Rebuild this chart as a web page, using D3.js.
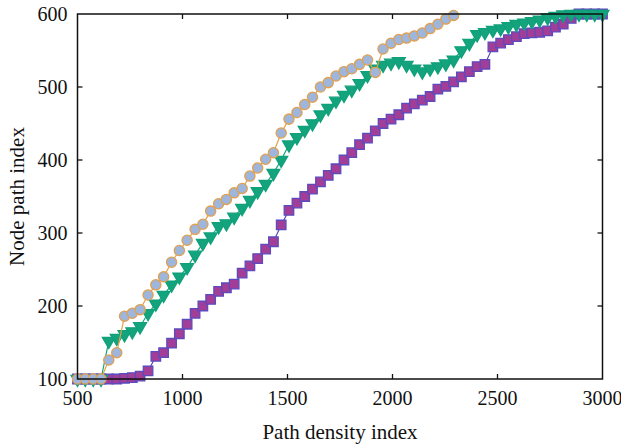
<!DOCTYPE html>
<html>
<head>
<meta charset="utf-8">
<script src="https://cdn.jsdelivr.net/npm/d3@7"></script>
<style>
  body { margin: 0; background: #fff; }
  text { font-family: "Liberation Serif", "Times New Roman", serif; fill: #111; }
</style>
</head>
<body>
<svg id="chart" width="621" height="447"></svg>
<script>
// path density index values (shared x grid)
const pathDensity = [500, 537, 575, 612, 649, 687, 724, 761, 798, 836, 873, 910, 948, 985, 1022, 1060, 1097, 1134, 1172, 1209,
  1246, 1284, 1321, 1358, 1396, 1433, 1470, 1507, 1545, 1582, 1619, 1657, 1694, 1731, 1769, 1806, 1843, 1881, 1918, 1955,
  1993, 2030, 2067, 2104, 2142, 2179, 2216, 2254, 2291, 2328, 2366, 2403, 2440, 2478, 2515, 2552, 2590, 2627, 2664, 2701,
  2739, 2776, 2813, 2851, 2888, 2925, 2963, 3000];

// circles (orange line, light blue fill)
const circleSeries = [100, 100, 100, 100, 126, 136, 186, 190, 195, 215, 229, 240, 260, 276, 290, 305, 312, 330, 340, 346,
  355, 361, 378, 389, 401, 410, 437, 456, 465, 476, 486, 500, 506, 515, 521, 525, 531, 537, 520, 552,
  560, 565, 567, 570, 574, 580, 586, 593, 598];

// down triangles (green)
const triangleSeries = [100, 100, 100, 100, 152, 156, 161, 165, 172, 190, 203, 215, 229, 240, 253, 270, 286, 295, 309, 313,
  322, 334, 345, 357, 367, 382, 400, 421, 431, 441, 450, 462, 471, 481, 489, 496, 505, 516, 525, 530,
  533, 535, 530, 525, 521, 525, 528, 532, 537, 550, 560, 572, 575, 578, 580, 583, 586, 588, 590, 592,
  595, 597, 599, 600, 600, 600, 600, 600];

// squares (purple)
const squareSeries = [100, 100, 100, 100, 100, 100, 101, 102, 104, 111, 131, 136, 149, 162, 175, 190, 200, 209, 220, 225,
  230, 245, 255, 265, 278, 288, 311, 331, 341, 350, 360, 370, 379, 388, 400, 410, 421, 430, 440, 450,
  456, 462, 471, 477, 482, 487, 497, 501, 507, 514, 521, 528, 531, 555, 560, 565, 569, 573, 574, 575,
  577, 582, 586, 594, 600, 600, 600, 600];

const xTicks = [500, 1000, 1500, 2000, 2500, 3000];
const yTicks = [100, 200, 300, 400, 500, 600];

const svg = d3.select("#chart");
const plotL = 77.5, plotR = 602.5, plotT = 14, plotB = 379;

let xscale = d3.scaleLinear().domain([500, 3000]).range([plotL, plotR]);
let yscale = d3.scaleLinear().domain([100, 600]).range([plotB, plotT]);

function toPoints(vals) {
  return vals.map((v, i) => ({x: pathDensity[i], y: v}));
}

let dline = d3.line()
  .x(d => xscale(d.x))
  .y(d => yscale(d.y));

const series = [
  {vals: squareSeries, line: "#5a4cb0", fill: "#a23d98", stroke: "#5b4bbd", sym: d3.symbolSquare, size: 90, rot: 0},
  {vals: triangleSeries, line: "#17a57c", fill: "#13a47d", stroke: "#10a07a", sym: d3.symbolTriangle, size: 72, rot: 180},
  {vals: circleSeries, line: "#e3a047", fill: "#9fb6dc", stroke: "#e0a050", sym: d3.symbolCircle, size: 82, rot: 0}
];

series.forEach(s => {
  let pts = toPoints(s.vals);
  svg.append("path")
    .datum(pts)
    .attr("fill", "none")
    .attr("stroke", s.line)
    .attr("stroke-width", 1.2)
    .attr("d", dline);
  svg.append("g").selectAll("path")
    .data(pts)
    .join("path")
    .attr("d", d3.symbol().type(s.sym).size(s.size))
    .attr("transform", d => `translate(${xscale(d.x)},${yscale(d.y)}) rotate(${s.rot})`)
    .attr("fill", s.fill)
    .attr("stroke", s.stroke)
    .attr("stroke-width", 1.3);
});

// frame
svg.append("rect")
  .attr("x", plotL).attr("y", plotT)
  .attr("width", plotR - plotL).attr("height", plotB - plotT)
  .attr("fill", "none").attr("stroke", "#111").attr("stroke-width", 1.5);

// inward ticks
const tickLen = 5;
xTicks.slice(1, -1).forEach(t => {
  svg.append("line").attr("x1", xscale(t)).attr("x2", xscale(t)).attr("y1", plotB).attr("y2", plotB - tickLen)
    .attr("stroke", "#111").attr("stroke-width", 1.3);
  svg.append("line").attr("x1", xscale(t)).attr("x2", xscale(t)).attr("y1", plotT).attr("y2", plotT + tickLen)
    .attr("stroke", "#111").attr("stroke-width", 1.3);
});
yTicks.slice(1, -1).forEach(t => {
  svg.append("line").attr("x1", plotL).attr("x2", plotL + tickLen).attr("y1", yscale(t)).attr("y2", yscale(t))
    .attr("stroke", "#111").attr("stroke-width", 1.3);
  svg.append("line").attr("x1", plotR).attr("x2", plotR - tickLen).attr("y1", yscale(t)).attr("y2", yscale(t))
    .attr("stroke", "#111").attr("stroke-width", 1.3);
});

// tick labels
svg.append("g").selectAll("text")
  .data(xTicks)
  .join("text")
  .attr("x", d => xscale(d))
  .attr("y", plotB + 26)
  .attr("text-anchor", "middle")
  .attr("font-size", 20)
  .text(d => d);

svg.append("g").selectAll("text")
  .data(yTicks)
  .join("text")
  .attr("x", plotL - 10)
  .attr("y", d => yscale(d) + 7)
  .attr("text-anchor", "end")
  .attr("font-size", 20)
  .text(d => d);

// axis titles
svg.append("text")
  .attr("x", (plotL + plotR) / 2)
  .attr("y", 439)
  .attr("text-anchor", "middle")
  .attr("font-size", 21)
  .text("Path density index");

svg.append("text")
  .attr("transform", `translate(24,${(plotT + plotB) / 2}) rotate(-90)`)
  .attr("text-anchor", "middle")
  .attr("font-size", 21)
  .text("Node path index");
</script>
</body>
</html>
